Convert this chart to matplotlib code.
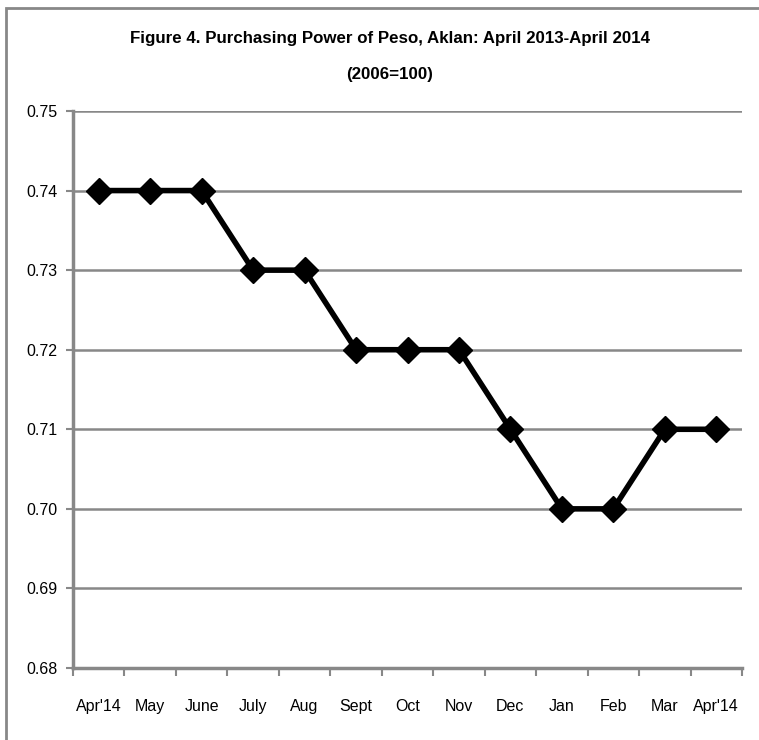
import matplotlib.pyplot as plt
import matplotlib.patches as mpatches
from matplotlib import font_manager

months = ["Apr'14", "May", "June", "July", "Aug", "Sept", "Oct", "Nov",
          "Dec", "Jan", "Feb", "Mar", "Apr'14"]
power = [0.74, 0.74, 0.74, 0.73, 0.73, 0.72, 0.72, 0.72,
         0.71, 0.70, 0.70, 0.71, 0.71]
yticks = [0.68, 0.69, 0.70, 0.71, 0.72, 0.73, 0.74, 0.75]

names = {f.name for f in font_manager.fontManager.ttflist}
fam = 'Liberation Sans Narrow' if 'Liberation Sans Narrow' in names else 'Liberation Sans'
plt.rcParams['font.family'] = [fam, 'DejaVu Sans']

W, H = 759, 740
fig = plt.figure(figsize=(W / 100, H / 100), dpi=100)
ax = fig.add_axes([73 / W, 1 - 668 / H, (742 - 73) / W, (668 - 111) / H])

grey = '#888888'
# outer border (only top and left show in the image)
fig.patches.append(mpatches.Rectangle((6 / W, -0.05), 1.1, 1 - 8 / H + 0.05,
                                      transform=fig.transFigure, fill=False,
                                      edgecolor=grey, linewidth=2))

x = list(range(len(months)))
ax.plot(x, power, color='black', linewidth=4, marker='D', markersize=13, zorder=3)

ax.set_xlim(-0.5, len(months) - 0.5)
ax.set_ylim(0.68, 0.75)
ax.set_yticks(yticks)
ax.set_yticklabels(['%.2f' % v for v in yticks])
ax.set_xticks(x)
ax.set_xticklabels(months)
ax.set_xticks([i - 0.5 for i in range(len(months) + 1)], minor=True)
ax.tick_params(axis='x', which='major', length=0, pad=22, labelsize=11.5)
ax.tick_params(axis='x', which='minor', length=6, width=1.5, color=grey)
ax.tick_params(axis='y', length=5, width=1.5, color=grey, labelsize=11.5, pad=6)

ax.grid(axis='y', color=grey, linewidth=1.8)
ax.set_axisbelow(True)
for s in ['top', 'right']:
    ax.spines[s].set_visible(False)
for s in ['left', 'bottom']:
    ax.spines[s].set_color(grey)
    ax.spines[s].set_linewidth(2.5)

fig.text(390 / W, 1 - 38 / H, 'Figure 4. Purchasing Power of Peso, Aklan: April 2013-April 2014',
         ha='center', va='center', fontsize=12.2, fontweight='bold')
fig.text(390 / W, 1 - 75 / H, '(2006=100)', ha='center', va='center',
         fontsize=12.2, fontweight='bold')

fig.savefig('out.png', dpi=100)
